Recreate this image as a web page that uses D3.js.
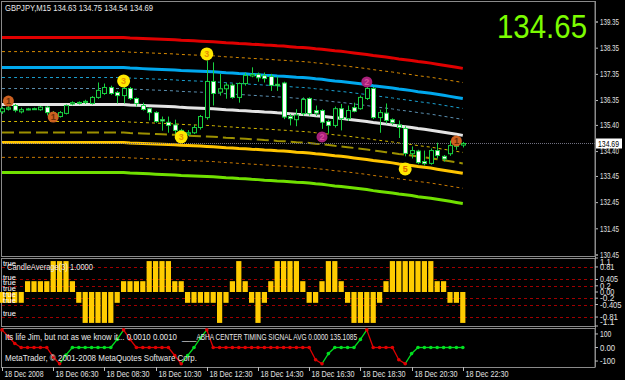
<!DOCTYPE html>
<html><head><meta charset="utf-8">
<script src="https://cdn.jsdelivr.net/npm/d3@7"></script>
<style>html,body{margin:0;padding:0;background:#000;overflow:hidden}svg{display:block}</style>
</head><body><svg id="c" width="625" height="380"></svg>
<script>
// ---------------- DATA ----------------
const symbolTitle = "GBPJPY,M15  134.63 134.75 134.54 134.69";
const bigPrice = "134.65";
const currentPrice = 134.69;
const opens  = [135.90,136.00,136.14,135.90,136.00,136.01,135.98,136.08,135.86,135.72,135.84,136.20,136.24,136.26,136.22,136.45,136.60,136.83,136.64,136.52,136.79,136.41,136.14,136.02,135.87,135.60,135.50,135.40,135.19,135.05,135.10,135.30,135.68,137.06,136.65,136.78,136.92,136.45,136.98,137.27,137.33,137.28,137.25,136.95,137.00,135.72,135.60,135.83,136.41,135.95,135.95,135.53,135.38,136.02,135.64,136.06,136.02,136.41,136.79,135.68,135.85,135.60,135.40,135.26,134.30,134.40,134.00,133.93,134.42,134.20,134.30,134.58,134.63];
const highs  = [136.10,136.12,136.20,136.06,136.05,136.06,136.12,136.12,135.93,135.93,136.18,136.30,136.30,136.36,136.50,137.02,136.98,136.90,136.70,136.92,136.85,136.45,136.25,136.06,135.92,135.72,135.72,135.60,135.25,135.20,135.40,135.78,137.86,137.79,137.35,137.00,136.98,137.02,137.40,137.60,137.40,137.40,137.35,137.25,137.05,135.82,136.00,136.45,136.45,136.14,136.00,135.60,136.10,136.20,136.14,136.25,136.52,136.95,136.85,135.98,136.22,135.65,135.57,135.35,134.58,134.45,134.42,134.50,134.72,134.25,134.80,134.82,134.75];
const lows   = [135.82,135.95,135.88,135.84,135.96,135.97,135.94,135.76,135.74,135.68,135.80,136.15,136.18,136.20,136.18,136.40,136.55,136.55,136.22,136.22,136.35,136.10,135.95,135.57,135.48,135.18,135.10,135.05,135.04,134.98,135.05,135.22,135.60,136.14,136.52,136.40,136.40,136.25,136.90,137.22,137.05,137.02,136.70,136.70,135.62,135.38,135.35,135.75,135.75,135.74,135.25,135.07,135.30,135.19,135.55,135.88,135.98,136.35,135.62,135.10,135.45,135.40,134.90,134.20,134.12,133.90,133.85,133.88,134.12,134.00,134.22,134.45,134.54];
const closes = [136.02,136.05,135.96,135.98,136.01,136.02,136.08,135.87,135.80,135.87,136.14,136.25,136.26,136.30,136.45,136.72,136.83,136.60,136.52,136.79,136.41,136.22,135.99,135.87,135.53,135.55,135.38,135.19,135.05,135.10,135.30,135.72,137.06,136.60,136.78,136.92,136.45,136.98,137.29,137.33,137.20,137.17,136.91,136.90,135.70,135.64,135.78,136.37,135.83,135.85,135.50,135.38,136.02,135.64,135.95,135.92,136.45,136.79,135.68,135.87,135.57,135.49,135.30,134.31,134.42,133.96,133.92,134.42,134.23,134.10,134.61,134.63,134.69];
const centerLine = [136.18,136.18,136.18,136.18,136.18,136.18,136.18,136.18,136.18,136.18,136.18,136.18,136.18,136.18,136.18,136.18,136.18,136.18,136.18,136.18,136.16,136.15,136.14,136.13,136.12,136.11,136.10,136.09,136.07,136.06,136.05,136.04,136.03,136.02,136.00,135.98,135.97,135.95,135.94,135.92,135.91,135.89,135.88,135.86,135.85,135.83,135.81,135.80,135.78,135.75,135.73,135.70,135.67,135.65,135.62,135.59,135.56,135.53,135.49,135.46,135.43,135.40,135.36,135.33,135.30,135.26,135.23,135.20,135.16,135.12,135.08,135.04,135.00];
const bandOffsets = [2.56, 2.02, 1.41, 1.03, 0.61, 0, -0.65, -1.07, -1.45, -2.02, -2.60];
const priceTicks = [139.35, 138.35, 137.35, 136.35, 135.40, 134.40, 133.45, 132.45, 131.45, 130.45];
const histValues = [-0.35,-0.35,-0.35,-0.35, 0.35,0.35,0.35,0.35, 1,1,1, 0.35, -0.35, -1,-1,-1,-1,-1, -0.35, 0.35,0.35,0.35,0.35, 1,1,1,1, 0.35,0.35, -0.35,-0.35,-0.35,-0.35,-0.35, -1, -0.35, 0.35, 1, 0.35, -0.35, -1, -0.35, 0.35, 1,1,1,1, 0.35, -0.35,-0.35, 0.35, 1,1, 0.35, -0.35, -1,-1,-1,-1, -0.35, 0.35, 1,1,1,1,1,1,1, 0.35,0.35, -0.35,-0.35, -1];
const histLevels = [0.81, 0.405, 0.2, -0.2, -0.405, -0.81];
const histTicks = [1.1, 0.81, 0.405, 0.2, 0, -0.2, -0.405, -0.81, -1.1];
const histTickLabels = ["1.1","0.81","0.405","0.2","0.00","-0.2","-0.405","-0.81","-1.1"];
const trueLabelLevels = [0.94, 0.50, 0.31, 0.12, -0.08, -0.26, -0.68];
const histTitle = "CandleAverage(3) 1.0000";
const timingValues = [130,80,30,0,0,0,0,0,-70,-120,-55,0,0,0,0,0,0,0,60,130,60,0,0,0,0,0,0,-60,-120,-60,0,70,130,0,0,0,0,0,0,0,0,0,0,0,0,0,0,0,0,-90,-120,-45,0,0,0,0,60,130,0,0,0,0,-90,-120,-45,0,0,0,0,0,0,0,0];
const timingTicks = [100, 0, -100];
const timingTickLabels = ["100", "0.00", "-100"];
const timingText1 = "Its life Jim, but not as we know it... 0.0010 0.0010";
const timingText2 = "____ABHA CENTER TIMING SIGNAL AVG 0.0000 135.1085";
const copyrightText = "MetaTrader, \u00A9 2001-2008 MetaQuotes Software Corp.";
const timeLabelBars = [0, 8, 16, 24, 32, 40, 48, 56, 64, 72];
const timeLabels = ["18 Dec 2008","18 Dec 06:30","18 Dec 08:30","18 Dec 10:30","18 Dec 12:30","18 Dec 14:30","18 Dec 16:30","18 Dec 18:30","18 Dec 20:30","18 Dec 22:30"];
const markerBars = [1, 8, 19, 28, 32, 50, 57, 63, 71];
const markerPrices = [136.31, 135.70, 137.08, 134.94, 138.11, 134.94, 137.04, 133.72, 134.79];
const markerLabels = ["1","1","3","3","3","2","2","5","1"];

// ---------------- LAYOUT / STYLE ----------------
const W = 625, H = 380, axisX = 595;
const svg = d3.select("#c");
const FONT = "Liberation Sans, Arial, sans-serif";
svg.append("rect").attr("width", W).attr("height", H).attr("fill", "#000");

const n = closes.length;
const x = d3.scaleLinear().domain([0, n - 1]).range([2, 462.8]);
const y = d3.scaleLinear().domain([130.45, 139.35]).range([254.5, 21.5]);
const yH = d3.scaleLinear().domain([-1.1, 1.1]).range([326, 258]);
const yT = d3.scaleLinear().domain([-144, 144]).range([367, 328]);

function txt(g, s, tx, ty, size, len, color, anchor) {
  const t = g.append("text").attr("x", tx).attr("y", ty).attr("font-family", FONT)
    .attr("font-size", size).attr("fill", color || "#e8e8e8").text(s);
  if (anchor) t.attr("text-anchor", anchor);
  if (len) t.attr("textLength", len).attr("lengthAdjust", "spacingAndGlyphs");
  return t;
}

// frames
const frames = [[1, 1, 256], [1, 258, 326], [1, 328, 367]];
frames.forEach(f => {
  svg.append("rect").attr("x", f[0] + 0.5).attr("y", f[1] + 0.5).attr("width", axisX - f[0] - 0.5)
    .attr("height", f[2] - f[1]).attr("fill", "none").attr("stroke", "#8a8a8a").attr("stroke-width", 1);
});

// bands
const bandStyles = [
  {c: "#e00000", w: 3, d: null},
  {c: "#d88a00", w: 1, d: "3,3"},
  {c: "#00a8ee", w: 3, d: null},
  {c: "#1aa0d0", w: 1, d: "3,3"},
  {c: "#5a8fb0", w: 1, d: "3,3"},
  {c: "#e4e4e4", w: 3, d: null},
  {c: "#d4b800", w: 1, d: "3,3"},
  {c: "#9c9000", w: 2, d: "12,5"},
  {c: "#ffc400", w: 3, d: null},
  {c: "#c87800", w: 1, d: "3,3"},
  {c: "#70e000", w: 3, d: null}
];
const gBands = svg.append("g");
bandOffsets.forEach((off, k) => {
  const st = bandStyles[k];
  const line = d3.line().x((d, i) => x(i)).y(d => y(d + off));
  const p = gBands.append("path").attr("d", line(centerLine)).attr("fill", "none")
    .attr("stroke", st.c).attr("stroke-width", st.w);
  if (st.d) p.attr("stroke-dasharray", st.d);
});

// current price dotted line
svg.append("line").attr("x1", 2).attr("x2", axisX).attr("y1", Math.round(y(currentPrice)) + 0.5)
  .attr("y2", Math.round(y(currentPrice)) + 0.5).attr("stroke", "#707080").attr("stroke-dasharray", "1,1");

// candles
const gC = svg.append("g");
const candleGreen = "#18d040";
for (let i = 0; i < n; i++) {
  const cx = Math.round(x(i)) + 0.5;
  gC.append("line").attr("x1", cx).attr("x2", cx).attr("y1", y(highs[i])).attr("y2", y(lows[i]))
    .attr("stroke", candleGreen).attr("stroke-width", 1);
  const top = y(Math.max(opens[i], closes[i])), bot = y(Math.min(opens[i], closes[i]));
  const bull = closes[i] >= opens[i];
  gC.append("rect").attr("x", cx - 2).attr("y", top).attr("width", 4).attr("height", Math.max(1, bot - top))
    .attr("fill", bull ? "#000" : "#ffffff").attr("stroke", candleGreen).attr("stroke-width", 1);
}

// markers
const markerFill = {"1": "#cc6020", "2": "#a8207a", "3": "#ffe800", "5": "#ffe800"};
const markerInk = {"1": "#6a2c08", "2": "#d84c9c", "3": "#e89000", "5": "#e06000"};
const markerR = {"1": 5.5, "2": 5.5, "3": 6.5, "5": 6.5};
markerBars.forEach((b, k) => {
  const lab = markerLabels[k];
  const cx = x(b), cy = y(markerPrices[k]);
  svg.append("circle").attr("cx", cx).attr("cy", cy).attr("r", markerR[lab]).attr("fill", markerFill[lab]);
  svg.append("text").attr("x", cx).attr("y", cy + 3).attr("text-anchor", "middle").attr("font-family", FONT)
    .attr("font-weight", "bold").attr("font-size", 9).attr("fill", markerInk[lab]).text(lab);
});

// title & big price
txt(svg, symbolTitle, 5, 11, 8.5, 148, "#e8e8e8");
txt(svg, bigPrice, 497, 38, 34, 90, "#7cfc00");

// price axis
const gPA = svg.append("g").attr("transform", `translate(${axisX},0)`)
  .call(d3.axisRight(y).tickValues(priceTicks).tickFormat(d3.format(".2f")).tickSize(3).tickPadding(2));
gPA.select(".domain").attr("stroke", "#8a8a8a");
gPA.selectAll(".tick line").attr("stroke", "#bbbbbb");
gPA.selectAll(".tick text").attr("fill", "#e0e0e0").attr("font-family", FONT).attr("font-size", 8.5)
  .attr("textLength", 19).attr("lengthAdjust", "spacingAndGlyphs");
svg.append("line").attr("x1", axisX + 0.5).attr("x2", axisX + 0.5).attr("y1", 1).attr("y2", 367).attr("stroke", "#8a8a8a");

// current price box
const cpY = y(currentPrice);
svg.append("rect").attr("x", 596).attr("y", cpY - 5).attr("width", 26).attr("height", 10).attr("fill", "#ffffff");
txt(svg, d3.format(".2f")(currentPrice), 598, cpY + 3.5, 8.5, 21, "#000");

// ---------------- histogram panel ----------------
const gH = svg.append("g");
histLevels.forEach(v => {
  gH.append("line").attr("x1", 2).attr("x2", axisX).attr("y1", Math.round(yH(v)) + 0.5).attr("y2", Math.round(yH(v)) + 0.5)
    .attr("stroke", "#a00000").attr("stroke-dasharray", "3,3");
});
histValues.forEach((v, i) => {
  const y0 = yH(0), y1 = yH(v);
  gH.append("rect").attr("x", x(i) - 2.6).attr("width", 5.2).attr("y", Math.min(y0, y1))
    .attr("height", Math.abs(y1 - y0)).attr("fill", "#ffcc00");
});
trueLabelLevels.forEach(v => txt(gH, "true", 3, yH(v) + 3, 7.5, 13, "#ffffff"));
txt(gH, histTitle, 7, 270, 8.5, 86, "#e8e8e8");
histTicks.forEach((v, k) => {
  const ty = Math.max(262, Math.min(322, yH(v)));
  gH.append("line").attr("x1", axisX).attr("x2", axisX + 3).attr("y1", yH(v)).attr("y2", yH(v)).attr("stroke", "#bbb");
  txt(gH, histTickLabels[k], 600, ty + 3, 8.5, histTickLabels[k].length * 3.6, "#e0e0e0");
});

// ---------------- timing panel ----------------
const gT = svg.append("g");
const segCol = [];
let state = "r";
for (let i = 1; i < n; i++) {
  if (timingValues[i] > timingValues[i - 1]) state = "g";
  else if (timingValues[i] < timingValues[i - 1]) state = "r";
  segCol.push(state);
}
const RED = "#e00000", GRN = "#00e020";
for (let i = 1; i < n; i++) {
  gT.append("line").attr("x1", x(i - 1)).attr("x2", x(i)).attr("y1", yT(timingValues[i - 1])).attr("y2", yT(timingValues[i]))
    .attr("stroke", segCol[i - 1] === "r" ? RED : GRN).attr("stroke-width", 1.3);
}
for (let i = 0; i < n; i++) {
  const inc = i > 0 ? segCol[i - 1] : "r";
  const out = i < n - 1 ? segCol[i] : inc;
  const c = (inc === "r" || out === "r") ? RED : GRN;
  gT.append("circle").attr("cx", x(i)).attr("cy", yT(timingValues[i])).attr("r", 1.8).attr("fill", c);
}
txt(gT, timingText1, 5, 340, 8.5, 172, "#e8e8e8");
txt(gT, timingText2, 182, 340, 8.5, 175, "#e8e8e8");
txt(gT, copyrightText, 5, 361, 8.5, 192, "#e8e8e8");
timingTicks.forEach((v, k) => {
  gT.append("line").attr("x1", axisX).attr("x2", axisX + 3).attr("y1", yT(v)).attr("y2", yT(v)).attr("stroke", "#bbb");
  txt(gT, timingTickLabels[k], 600, yT(v) + 3, 8.5, timingTickLabels[k].length * 3.8, "#e0e0e0");
});

// ---------------- time axis ----------------
const gX = svg.append("g");
timeLabelBars.forEach((b, k) => {
  const tx = Math.round(x(b)) + 0.5;
  gX.append("line").attr("x1", tx).attr("x2", tx).attr("y1", 367).attr("y2", 371).attr("stroke", "#bbb");
  txt(gX, timeLabels[k], tx + 2, 377, 8.5, timeLabels[k].length === 11 ? 39 : 43, "#e0e0e0");
});
</script></body></html>
